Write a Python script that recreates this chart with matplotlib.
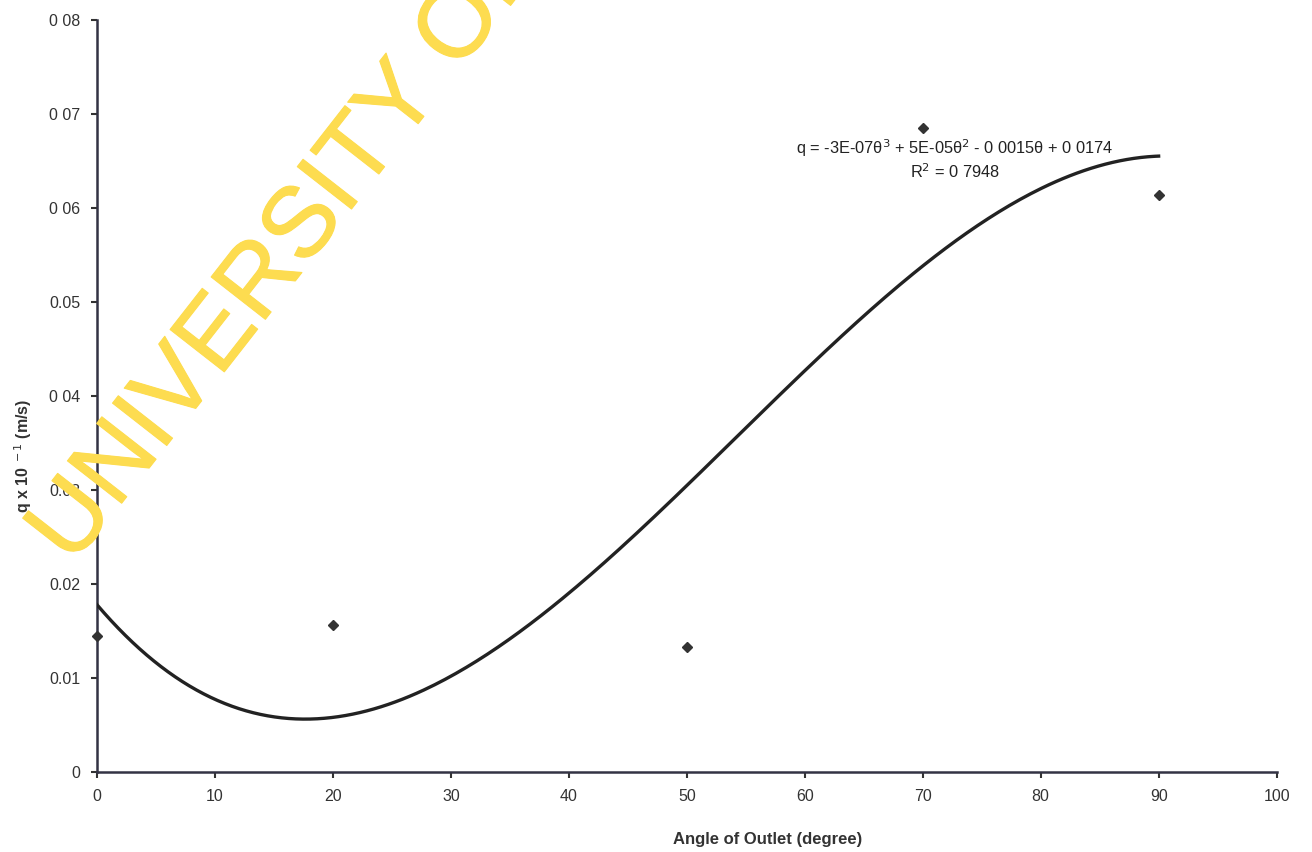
import numpy as np
import matplotlib.pyplot as plt
import matplotlib.patheffects as pe

plt.rcParams['font.family'] = ['Liberation Sans', 'DejaVu Sans']

# measured points
angle = np.array([0, 20, 50, 70, 90])
q = np.array([0.0145, 0.0156, 0.0133, 0.0685, 0.0614])

x_ticks = [0, 10, 20, 30, 40, 50, 60, 70, 80, 90, 100]
y_ticks = [0, 0.01, 0.02, 0.03, 0.04, 0.05, 0.06, 0.07, 0.08]
y_ticklabels = ['0', '0.01', '0.02', '0.03', '0 04', '0.05', '0 06', '0 07', '0 08']

fig = plt.figure(figsize=(13.12, 8.52), dpi=100)
ax = fig.add_axes([0.074, 0.094, 0.899, 0.883])

# third order polynomial trendline
coef = np.polyfit(angle, q, 3)
xs = np.linspace(0, 90, 300)
ax.plot(xs, np.polyval(coef, xs), color='#222222', lw=2.4, zorder=3)

ax.plot(angle, q, linestyle='none', marker='D', markersize=5.5,
        color='#333333', zorder=4, clip_on=False)

ax.set_xlim(0, 100)
ax.set_ylim(0, 0.08)
ax.set_xticks(x_ticks)
ax.set_yticks(y_ticks)
ax.set_yticklabels(y_ticklabels)
ax.tick_params(labelsize=11.5, colors='#333333', length=4, width=1.5, pad=8)

for s in ['top', 'right']:
    ax.spines[s].set_visible(False)
for s in ['left', 'bottom']:
    ax.spines[s].set_linewidth(1.8)
    ax.spines[s].set_color('#333344')

ax.text(72.7, 0.0675,
        'q = -3E-07θ$^3$ + 5E-05θ$^2$ - 0 0015θ + 0 0174\nR$^2$ = 0 7948',
        ha='center', va='top', fontsize=11.8, color='#222222', linespacing=1.25)

fig.text(0.018, 0.465, 'q x 10$^{\\ -1}$ (m/s)', rotation=90, ha='center', va='center',
         fontsize=11.5, fontweight='bold', color='#333333')
fig.text(0.585, 0.015, 'Angle of Outlet (degree)', ha='center', va='center',
         fontsize=12, fontweight='bold', color='#333333')

# watermark
wm = fig.text(0.055, 0.335, 'UNIVERSITY OF', rotation=52, rotation_mode='anchor',
              ha='left', va='baseline', fontsize=72, color='#FDDC50', zorder=10)
wm.set_path_effects([pe.withStroke(linewidth=0.8, foreground='#FDDC50')])

fig.savefig('out.png', dpi=100)
